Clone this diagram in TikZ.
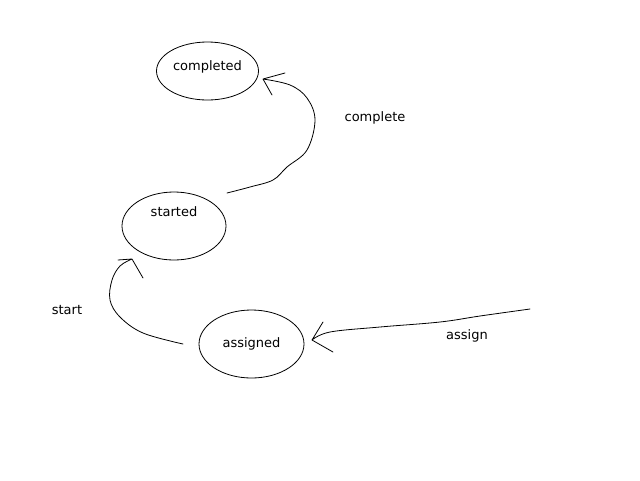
\documentclass[tikz,border=0pt]{standalone}
\usepackage{fontspec}
\setmainfont{DejaVu Sans}
\usetikzlibrary{shapes.geometric}
\begin{document}
\begin{tikzpicture}[x=1pt,y=-1pt,font=\fontsize{13}{15}\selectfont,
  state/.style={draw,ellipse,line width=0.8pt,inner sep=0pt,text height=10pt},
  sketch/.style={line width=0.8pt,line join=round,line cap=round}]
\useasboundingbox (0,0) rectangle (640,480);
% states
\node[state,minimum width=102pt,minimum height=58pt,text depth=10.6pt] (completed) at (207.5,71) {completed};
\node[state,minimum width=104pt,minimum height=68pt,text depth=28.6pt] (started) at (174,226) {started};
\node[state,minimum width=105pt,minimum height=68pt,text depth=3.4pt] (assigned) at (251.5,344) {assigned};
% free ends of the hand drawn arrows
\coordinate (assignTail) at (530,309);
\coordinate (assignTip) at (312,340);
\coordinate (startTail) at (183,344);
\coordinate (startTip) at (132,259);
\coordinate (completeTail) at (227,193);
\coordinate (completeTip) at (263,79);
% assign
\draw[sketch] plot[smooth,tension=0.6] coordinates {(assignTail) (480,316) (440,322) (380,327) (330,332) (assignTip)}
  (assignTip) -- +(11,-18) (assignTip) -- +(21,12);
\node (assign) at (467,336) {assign};
% start
\draw[sketch] plot[smooth,tension=0.6] coordinates {(startTail) (143,333) (120,317) (110,300) (112,280) (120,266) (startTip)}
  (startTip) -- +(-14,1) (startTip) -- +(11,19);
\node (start) at (67,310) {start};
% complete
\draw[sketch] plot[smooth,tension=0.6] coordinates {(completeTail) (250,187) (273,180) (287,167) (307,150) (315,120) (307,98) (290,85) (completeTip)}
  (completeTip) -- +(22,-6) (completeTip) -- +(9,16);
\node (complete) at (375,118) {complete};
\end{tikzpicture}
\end{document}
